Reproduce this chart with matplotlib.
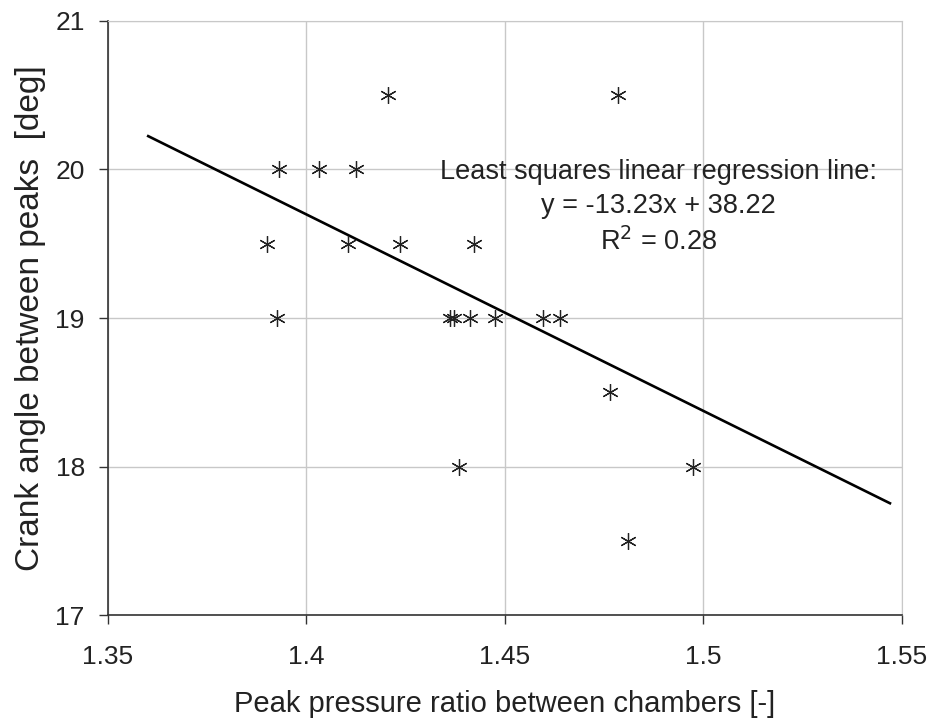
import numpy as np
import matplotlib.pyplot as plt

plt.rcParams['font.family'] = ['Liberation Sans', 'DejaVu Sans']

# measured points: pressure ratio vs crank angle
ratio = [1.4207, 1.4785,
         1.3932, 1.4032, 1.4125,
         1.3900, 1.4106, 1.4236, 1.4423,
         1.3926, 1.4363, 1.4373, 1.4413, 1.4476, 1.4596, 1.4639,
         1.4764,
         1.4385, 1.4973,
         1.4811]
angle = [20.5, 20.5,
         20.0, 20.0, 20.0,
         19.5, 19.5, 19.5, 19.5,
         19.0, 19.0, 19.0, 19.0, 19.0, 19.0, 19.0,
         18.5,
         18.0, 18.0,
         17.5]

# regression line
slope = -13.23
intercept = 38.22
fit_range = [1.3602, 1.547]

fig = plt.figure(figsize=(9.31, 7.22), dpi=100)
ax = fig.add_axes([0.1157, 0.148, 0.853, 0.823])

ax.plot(ratio, angle, linestyle='none', marker=(6, 2, 0), markersize=12,
        markeredgewidth=0.9, color='#222222', zorder=3)

xf = np.array(fit_range)
ax.plot(xf, slope * xf + intercept, color='black', linewidth=1.9, zorder=2)

ax.text(1.4888, 19.745, 'Least squares linear regression line:\n'
        'y = -13.23x + 38.22\nR$^2$ = 0.28',
        ha='center', va='center', fontsize=19.5, linespacing=1.4,
        color='#222222')

ax.set_xlim(1.35, 1.55)
ax.set_ylim(17, 21)
ax.set_xticks([1.35, 1.4, 1.45, 1.5, 1.55])
ax.set_xticklabels(['1.35', '1.4', '1.45', '1.5', '1.55'])
ax.set_yticks([17, 18, 19, 20, 21])
ax.grid(True, color='#c8c8c8', linewidth=1.0)
ax.set_axisbelow(True)

for s in ['top', 'right']:
    ax.spines[s].set_color('#c8c8c8')
for s in ['left', 'bottom']:
    ax.spines[s].set_color('#333333')
    ax.spines[s].set_linewidth(1.2)

ax.tick_params(axis='both', labelsize=19, length=6.5, width=1.0,
               colors='#333333', labelcolor='#222222', direction='out')
ax.tick_params(axis='x', pad=15)
ax.tick_params(axis='y', pad=10)

ax.set_xlabel('Peak pressure ratio between chambers [-]', fontsize=21,
              color='#222222', labelpad=15)
ax.set_ylabel('Crank angle between peaks  [deg]', fontsize=24,
              color='#222222', labelpad=7)

fig.savefig('out.png', dpi=100)
